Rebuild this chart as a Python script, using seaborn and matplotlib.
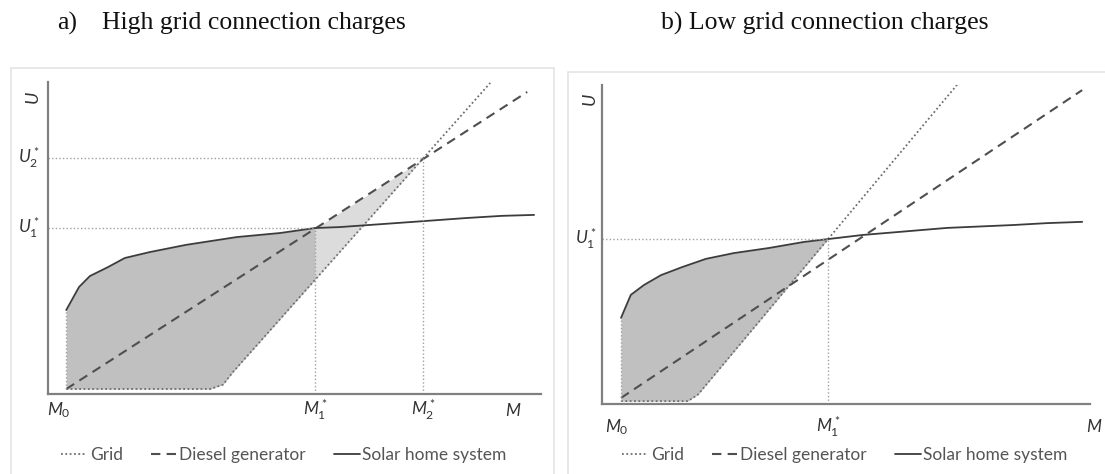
import numpy as np
import matplotlib
matplotlib.use('Agg')
import matplotlib.pyplot as plt
import seaborn as sns
from matplotlib.patches import Rectangle
from matplotlib.lines import Line2D

sns.set_theme(style='white')
plt.rcParams['font.family'] = ['Lato', 'DejaVu Sans']
plt.rcParams['mathtext.fontset'] = 'custom'
plt.rcParams['mathtext.it'] = 'Lato:italic'
plt.rcParams['mathtext.rm'] = 'Lato'

# --- panel a: high grid connection charges (arbitrary units, axes 0..10) ---
a_m0, a_m1, a_m2 = 0.37, 5.42, 7.61
a_u1, a_u2 = 5.32, 7.56
a_grid_x = [0.37, 3.29, 3.55, 3.75, 8.97]
a_grid_y = [0.16, 0.16, 0.30, 0.70, 9.97]
a_diesel_x = [0.37, 9.72]
a_diesel_y = [0.16, 9.68]
a_solar_x = [0.37, 0.63, 0.85, 1.22, 1.56, 2.07, 2.80, 3.83, 4.71, 5.42, 5.92, 7.61, 8.48, 9.21, 9.86]
a_solar_y = [2.69, 3.43, 3.78, 4.07, 4.36, 4.55, 4.78, 5.03, 5.16, 5.32, 5.35, 5.54, 5.64, 5.71, 5.74]

# --- panel b: low grid connection charges ---
b_m0, b_m1 = 0.39, 4.63
b_u1 = 5.17
b_grid_x = [0.39, 1.76, 1.97, 7.30]
b_grid_y = [0.09, 0.09, 0.30, 10.05]
b_diesel_x = [0.39, 9.84]
b_diesel_y = [0.19, 9.84]
b_solar_x = [0.39, 0.59, 0.86, 1.21, 1.64, 2.13, 2.70, 3.42, 4.14, 4.63, 5.35, 7.07, 8.42, 9.12, 9.84]
b_solar_y = [2.70, 3.42, 3.73, 4.04, 4.29, 4.55, 4.73, 4.89, 5.08, 5.17, 5.30, 5.52, 5.61, 5.67, 5.71]

legend_labels = ['Grid', 'Diesel generator', 'Solar home system']

grid_style = dict(color='#6e6e6e', lw=1.3, dashes=(1, 1.4))
diesel_style = dict(color='#4f4f4f', lw=1.5, dashes=(4.5, 3))
solar_style = dict(color='#3c3c3c', lw=1.3)
guide_style = dict(color='#a0a0a0', lw=1.0, ls=(0, (1, 1.6)))
spine_col = '#808080'
text_col = '#555555'
lab_col = '#333333'

fig = plt.figure(figsize=(11.05, 4.74), dpi=100)

# light frames around each panel
fig.patches.append(Rectangle((11 / 1105, -0.02), 543 / 1105, (474 - 68) / 474 + 0.02,
                             transform=fig.transFigure, fill=False, ec='#e4e4e4', lw=1.2))
fig.patches.append(Rectangle((568 / 1105, -0.02), 560 / 1105, (474 - 72) / 474 + 0.02,
                             transform=fig.transFigure, fill=False, ec='#e4e4e4', lw=1.2))

ax_a = fig.add_axes([48 / 1105, (474 - 394) / 474, 493 / 1105, 312 / 474])
ax_b = fig.add_axes([602 / 1105, (474 - 404) / 474, 488 / 1105, 319 / 474])


def draw_panel(ax, m0, m1, gx, gy, dx, dy, sx, sy):
    sns.lineplot(x=gx, y=gy, ax=ax, sort=False, **grid_style)
    sns.lineplot(x=dx, y=dy, ax=ax, sort=False, **diesel_style)
    sns.lineplot(x=sx, y=sy, ax=ax, sort=False, **solar_style)
    # region where solar beats the grid
    xs = np.linspace(m0, m1, 300)
    ax.fill_between(xs, np.interp(xs, sx, sy), np.interp(xs, gx, gy),
                    color='#c0c0c0', lw=0, zorder=0)
    ax.plot([m0, m0], [gy[0], sy[0]], **guide_style)
    ax.set_xlim(0, 10)
    ax.set_ylim(0, 10)
    ax.set_xticks([])
    ax.set_yticks([])
    for side in ['top', 'right']:
        ax.spines[side].set_visible(False)
    for side in ['left', 'bottom']:
        ax.spines[side].set_color(spine_col)
        ax.spines[side].set_linewidth(1.6)
    ax.patch.set_alpha(0)


draw_panel(ax_a, a_m0, a_m1, a_grid_x, a_grid_y, a_diesel_x, a_diesel_y, a_solar_x, a_solar_y)
draw_panel(ax_b, b_m0, b_m1, b_grid_x, b_grid_y, b_diesel_x, b_diesel_y, b_solar_x, b_solar_y)

# panel a: grid/diesel gap between M1* and M2*
xs = np.linspace(a_m1, a_m2, 200)
ax_a.fill_between(xs, np.interp(xs, a_diesel_x, a_diesel_y), np.interp(xs, a_grid_x, a_grid_y),
                  color='#dcdcdc', lw=0, zorder=0)

# guide lines
ax_a.plot([0, a_m1], [a_u1, a_u1], **guide_style)
ax_a.plot([a_m1, a_m1], [0, a_u1], **guide_style)
ax_a.plot([0, a_m2], [a_u2, a_u2], **guide_style)
ax_a.plot([a_m2, a_m2], [0, a_u2], **guide_style)
ax_b.plot([0, b_m1], [b_u1, b_u1], **guide_style)
ax_b.plot([b_m1, b_m1], [0, b_u1], **guide_style)

# axis labels
lab_kw = dict(fontsize=12.5, color=lab_col, ha='center', va='center', clip_on=False)
a_xlabs = [r'$M_\mathit{0}$', r'$M_\mathit{1}^*$', r'$M_\mathit{2}^*$', r'$M$']
for x, t in zip([a_m0 - 0.15, a_m1, a_m2, 9.43], a_xlabs):
    ax_a.text(x, -0.052, t, transform=ax_a.get_xaxis_transform(), **lab_kw)
for y, t in zip([a_u1, a_u2], [r'$U_\mathit{1}^*$', r'$U_\mathit{2}^*$']):
    ax_a.text(-0.018, y, t, transform=ax_a.get_yaxis_transform(), fontsize=12.5, color=lab_col,
              ha='right', va='center')
ax_a.text(-0.029, 0.95, r'$U$', transform=ax_a.transAxes, rotation=90, fontsize=13,
          color=lab_col, ha='center', va='center')

b_xlabs = [r'$M_\mathit{0}$', r'$M_\mathit{1}^*$', r'$M$']
for x, t in zip([b_m0 - 0.08, b_m1, 10.08], b_xlabs):
    ax_b.text(x, -0.072, t, transform=ax_b.get_xaxis_transform(), **lab_kw)
ax_b.text(-0.012, b_u1, r'$U_\mathit{1}^*$', transform=ax_b.get_yaxis_transform(), fontsize=12.5,
          color=lab_col, ha='right', va='center')
ax_b.text(-0.023, 0.953, r'$U$', transform=ax_b.transAxes, rotation=90, fontsize=13,
          color=lab_col, ha='center', va='center')

# legends
handles = [Line2D([], [], **grid_style), Line2D([], [], **diesel_style), Line2D([], [], **solar_style)]
for ax, cx in [(ax_a, 284 / 1105), (ax_b, 845 / 1105)]:
    ax.legend(handles, legend_labels, loc='center', bbox_to_anchor=(cx, 1 - 455 / 474),
              bbox_transform=fig.transFigure, ncol=3, frameon=False, fontsize=12.5,
              labelcolor=text_col, handlelength=1.5, handletextpad=0.15, columnspacing=1.6)

# panel titles
title_kw = dict(fontsize=18.5, family='Liberation Serif', color='#111111', va='center')
fig.text(57 / 1105, 1 - 23 / 474, 'a)', **title_kw)
fig.text(102 / 1105, 1 - 23 / 474, 'High grid connection charges', **title_kw)
fig.text(825 / 1105, 1 - 23 / 474, 'b) Low grid connection charges', ha='center', **title_kw)

fig.savefig('out.png', dpi=100)
